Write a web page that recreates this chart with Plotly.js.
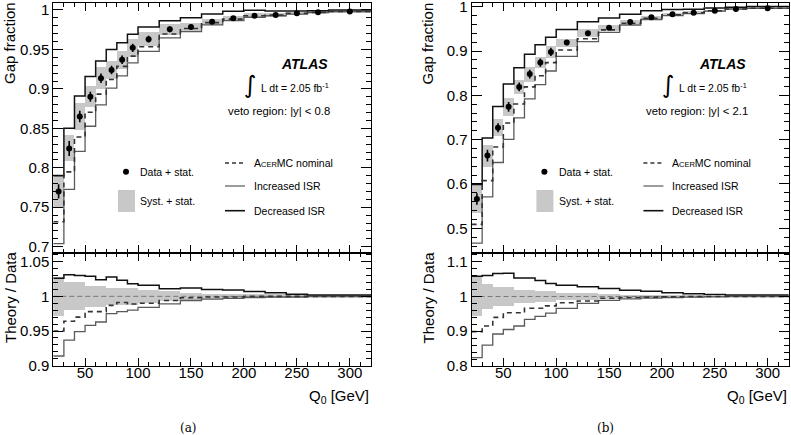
<!DOCTYPE html>
<html><head><meta charset="utf-8">
<script src="https://cdn.plot.ly/plotly-3.0.1.min.js"></script>
<style>html,body{margin:0;padding:0;background:#fff}</style>
</head><body><div id="chart" style="width:791px;height:435px"></div>
<script>
// ---- data ----
const binEdges = [20,30,40,50,60,70,80,90,100,120,140,160,180,200,220,240,260,280,320];

// (a) veto region |y| < 0.8
const gapA   = [0.770,0.8245,0.865,0.890,0.9135,0.924,0.937,0.952,0.963,0.9755,0.9785,0.985,0.9894,0.9928,0.9937,0.9958,0.997,0.998];
const statA  = [0.009,0.0095,0.0074,0.0063,0.006,0.0053,0.0053,0.0053,0.0042,0.0036,0.003,0.0025,0.002,0.002,0.0015,0.0015,0.0012,0.001];
const systA  = [0.028,0.020,0.020,0.015,0.015,0.012,0.012,0.012,0.009,0.007,0.005,0.004,0.003,0.003,0.003,0.002,0.002,0.002];
const nomA   = [0.950,0.964,0.970,0.978,0.978,0.987,0.991,0.989,0.990,0.994,0.998,0.999,0.999,1.000,1.000,1.000,1.000,1.000];
const incA   = [0.914,0.937,0.949,0.958,0.963,0.975,0.978,0.980,0.984,0.989,0.994,0.996,0.997,0.998,0.999,0.999,1.000,1.000];
const decA   = [1.026,1.031,1.030,1.029,1.024,1.028,1.023,1.018,1.016,1.011,1.012,1.010,1.009,1.007,1.005,1.003,1.002,1.002];

// (b) veto region |y| < 2.1
const gapB   = [0.566,0.664,0.727,0.774,0.819,0.848,0.874,0.898,0.919,0.940,0.9526,0.9655,0.976,0.9828,0.9865,0.991,0.9948,0.9964];
const statB  = [0.013,0.013,0.010,0.011,0.010,0.010,0.0094,0.0094,0.006,0.005,0.004,0.0035,0.003,0.0025,0.002,0.002,0.0015,0.0015];
const systB  = [0.055,0.037,0.027,0.027,0.020,0.020,0.015,0.015,0.010,0.010,0.007,0.005,0.004,0.003,0.003,0.002,0.002,0.002];
const nomB   = [0.899,0.915,0.940,0.953,0.953,0.966,0.966,0.973,0.982,0.987,0.995,0.997,0.998,0.999,1.000,1.000,1.000,1.000];
const incB   = [0.824,0.860,0.892,0.905,0.915,0.934,0.943,0.952,0.966,0.980,0.989,0.993,0.995,0.997,0.998,0.999,1.000,1.000];
const decB   = [1.058,1.060,1.066,1.067,1.053,1.053,1.046,1.037,1.032,1.028,1.023,1.018,1.015,1.011,1.008,1.006,1.004,1.004];

const legendLabels = ['Data + stat.','Syst. + stat.',"A<span style='font-size:7.5px'>CER</span>MC nominal",'Increased ISR','Decreased ISR'];
const vetoLabels = ['veto region: |y| &lt; 0.8','veto region: |y| &lt; 2.1'];
const panelLabels = ['(a)','(b)'];

// ---- helpers ----
const W = 791, H = 435;
const FONT = '"Liberation Sans", Arial, Helvetica, sans-serif';
const px = x => x / W, py = y => 1 - y / H;
const centers = binEdges.slice(0,-1).map((e,i)=>(e+binEdges[i+1])/2);
const widths  = binEdges.slice(0,-1).map((e,i)=>binEdges[i+1]-e);
const stepY = v => v.concat([v[v.length-1]]);
const mul = (a,b) => a.map((v,i)=>v*b[i]);

const C_BAND = '#c8c8c8', C_DEC = '#111', C_INC = '#5a5a5a', C_NOM = '#333';

function panelTraces(gap, stat, syst, nom, inc, dec, xt, yt, xb, yb) {
  const t = [];
  t.push({type:'bar', x:centers, width:widths, base:gap.map((g,i)=>g*(1-syst[i])), y:gap.map((g,i)=>2*g*syst[i]),
          marker:{color:C_BAND, line:{width:0}}, xaxis:xt, yaxis:yt, hoverinfo:'skip'});
  t.push({type:'scatter', mode:'lines', x:binEdges, y:stepY(mul(gap,inc)), line:{shape:'hv', color:C_INC, width:1.3}, xaxis:xt, yaxis:yt});
  t.push({type:'scatter', mode:'lines', x:binEdges, y:stepY(mul(gap,dec)), line:{shape:'hv', color:C_DEC, width:1.5}, xaxis:xt, yaxis:yt});
  t.push({type:'scatter', mode:'lines', x:binEdges, y:stepY(mul(gap,nom)), line:{shape:'hv', color:C_NOM, width:1.6, dash:'5px,4px'}, xaxis:xt, yaxis:yt});
  t.push({type:'scatter', mode:'markers', x:centers, y:gap, marker:{color:'#000', size:6},
          error_y:{type:'data', array:stat, visible:true, color:'#000', thickness:1.6, width:0}, xaxis:xt, yaxis:yt});
  t.push({type:'bar', x:centers, width:widths, base:syst.map(s=>1-s), y:syst.map(s=>2*s),
          marker:{color:C_BAND, line:{width:0}}, xaxis:xb, yaxis:yb, hoverinfo:'skip'});
  t.push({type:'scatter', mode:'lines', x:[binEdges[0], binEdges[binEdges.length-1]], y:[1,1], line:{color:'#777', width:1, dash:'5px,3px'}, xaxis:xb, yaxis:yb});
  t.push({type:'scatter', mode:'lines', x:binEdges, y:stepY(inc), line:{shape:'hv', color:C_INC, width:1.3}, xaxis:xb, yaxis:yb});
  t.push({type:'scatter', mode:'lines', x:binEdges, y:stepY(dec), line:{shape:'hv', color:C_DEC, width:1.5}, xaxis:xb, yaxis:yb});
  t.push({type:'scatter', mode:'lines', x:binEdges, y:stepY(nom), line:{shape:'hv', color:C_NOM, width:1.6, dash:'5px,4px'}, xaxis:xb, yaxis:yb});
  return t;
}

const traces = [].concat(
  panelTraces(gapA, statA, systA, nomA, incA, decA, 'x', 'y', 'x2', 'y2'),
  panelTraces(gapB, statB, systB, nomB, incB, decB, 'x3', 'y3', 'x4', 'y4')
);

function xax(dom, anchor, labels) {
  return {domain:dom, anchor:anchor, range:[binEdges[0], binEdges[binEdges.length-1]], dtick:50, tick0:0,
    ticks:'inside', ticklen:8, tickwidth:1, tickcolor:'#000',
    minor:{dtick:10, ticks:'inside', ticklen:4, tickwidth:1, tickcolor:'#000'},
    showline:true, linecolor:'#000', linewidth:1, mirror:'ticks', showgrid:false, zeroline:false,
    showticklabels:labels, ticklabelstandoff:-7, ticklabeloverflow:'allow',
    tickfont:{family:FONT, size:15, color:'#000'}, fixedrange:true};
}
function yax(dom, anchor, range, dtick, mdtick) {
  return {domain:dom, anchor:anchor, range:range, dtick:dtick, tick0:0,
    ticks:'inside', ticklen:10, tickwidth:1, tickcolor:'#000',
    minor:{dtick:mdtick, ticks:'inside', ticklen:5, tickwidth:1, tickcolor:'#000'},
    showline:true, linecolor:'#000', linewidth:1, mirror:'ticks', showgrid:false, zeroline:false,
    ticklabeloverflow:'allow',
    tickfont:{family:FONT, size:15, color:'#000'}, fixedrange:true};
}

const xDomA = [px(53.3), px(371)], xDomB = [px(471.6), px(788.8)];
const yDomTop = [py(253.3), py(2.5)], yDomBot = [py(366), py(253.3)];

const annotations = [], shapes = [];
function addPanelDecor(off, idx) {
  const A = (x,y,text,opt) => annotations.push(Object.assign({xref:'paper', yref:'paper', x:px(x+off), y:py(y), text:text, showarrow:false,
      font:{family:FONT, size:10.5, color:'#000'}, xanchor:'left', yanchor:'middle'}, opt||{}));
  A(9.5, 43.5, 'Gap fraction', {textangle:-90, xanchor:'center', font:{family:FONT, size:15, color:'#000'}});
  A(10.5, 297.5, 'Theory / Data', {textangle:-90, xanchor:'center', font:{family:FONT, size:15, color:'#000'}});
  A(idx ? 788.8-off : 371, 396, 'Q<sub>0</sub> [GeV]', {xanchor:'right', font:{family:FONT, size:15, color:'#000'}});
  A(188.5 + (idx ? -1 : 0), 428, panelLabels[idx], {xanchor:'center', font:{family:'"DejaVu Serif", "Liberation Serif", serif', size:12, color:'#000'}});
  A(330, 64.3, '<b><i>ATLAS</i></b>', {xanchor:'right', font:{family:FONT, size:14, color:'#000'}});
  A(250.5, 85, '∫', {xanchor:'center', font:{family:'"DejaVu Sans", sans-serif', size:24, color:'#000'}});
  A(259, 87.5, 'L dt = 2.05 fb<sup>-1</sup>', {});
  A(331.5, 111, vetoLabels[idx], {xanchor:'right', font:{family:FONT, size:11.3, color:'#000'}});
  A(138.3, 172, legendLabels[0]);
  A(138.3, 201, legendLabels[1]);
  A(251.7, 163, legendLabels[2]);
  A(251.7, 186, legendLabels[3]);
  A(251.7, 210.7, legendLabels[4]);
  const S = (o) => shapes.push(Object.assign({xref:'paper', yref:'paper'}, o));
  S({type:'circle', x0:px(123+off), x1:px(129+off), y0:py(174.7), y1:py(168.7), fillcolor:'#000', line:{width:0}});
  S({type:'rect', x0:px(118+off), x1:px(135+off), y0:py(212), y1:py(190), fillcolor:C_BAND, line:{width:0}});
  S({type:'line', x0:px(225+off), x1:px(245+off), y0:py(163), y1:py(163), line:{color:C_NOM, width:1.6, dash:'4px,3px'}});
  S({type:'line', x0:px(225+off), x1:px(245+off), y0:py(186), y1:py(186), line:{color:C_INC, width:1.2}});
  S({type:'line', x0:px(225+off), x1:px(245+off), y0:py(210.7), y1:py(210.7), line:{color:C_DEC, width:1.6}});
}
addPanelDecor(0, 0);
addPanelDecor(418.4, 1);

const layout = {
  width:W, height:H, margin:{l:0, r:0, t:0, b:0}, paper_bgcolor:'#fff', plot_bgcolor:'rgba(0,0,0,0)',
  showlegend:false, barmode:'overlay', bargap:0,
  font:{family:FONT, color:'#000'},
  xaxis:  xax(xDomA, 'y',  false),
  yaxis:  yax(yDomTop, 'x',  [0.6916, 1.0095], 0.05, 0.01),
  xaxis2: xax(xDomA, 'y2', true),
  yaxis2: yax(yDomBot, 'x2', [0.8996, 1.062], 0.05, 0.01),
  xaxis3: xax(xDomB, 'y3', false),
  yaxis3: yax(yDomTop, 'x3', [0.4436, 1.0095], 0.1, 0.02),
  xaxis4: xax(xDomB, 'y4', true),
  yaxis4: yax(yDomBot, 'x4', [0.8, 1.1242], 0.1, 0.02),
  annotations:annotations, shapes:shapes
};
Plotly.newPlot('chart', traces, layout, {staticPlot:true, displayModeBar:false});
</script></body></html>
